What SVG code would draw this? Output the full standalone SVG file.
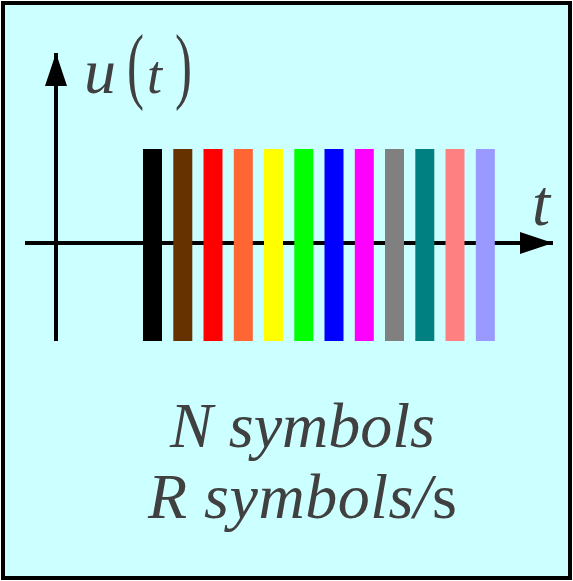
<svg xmlns="http://www.w3.org/2000/svg" width="573" height="581" viewBox="0 0 573 581">
<style>
.t{font-family:"Liberation Serif","Times New Roman",serif;fill:#404040;}
.i{font-style:italic;}
.ax{stroke:#000;stroke-width:4;fill:none;}
</style>
<defs>
<marker id="ah" viewBox="0 0 33 22" refX="33" refY="11" markerWidth="33" markerHeight="22" markerUnits="userSpaceOnUse" orient="auto">
<path d="M0,0 L33,11 L0,22 Z" fill="#000"/>
</marker>
</defs>
<rect x="3" y="3" width="567" height="575" fill="#CCFFFF" stroke="#000" stroke-width="4"/>
<g id="connectors">
<line class="ax" x1="56" y1="341" x2="56" y2="53" marker-end="url(#ah)"/>
<line class="ax" x1="25" y1="243" x2="553" y2="243" marker-end="url(#ah)"/>
</g>
<g id="bars">
<rect x="143" y="149" width="19" height="192" fill="#000000"/>
<rect x="173.3" y="149" width="19" height="192" fill="#663300"/>
<rect x="203.5" y="149" width="19" height="192" fill="#FF0000"/>
<rect x="233.8" y="149" width="19" height="192" fill="#FF6633"/>
<rect x="264" y="149" width="19" height="192" fill="#FFFF00"/>
<rect x="294.3" y="149" width="19" height="192" fill="#00FF00"/>
<rect x="324.5" y="149" width="19" height="192" fill="#0000FF"/>
<rect x="354.8" y="149" width="19" height="192" fill="#FF00FF"/>
<rect x="385" y="149" width="19" height="192" fill="#808080"/>
<rect x="415.3" y="149" width="19" height="192" fill="#008080"/>
<rect x="445.5" y="149" width="19" height="192" fill="#FF8080"/>
<rect x="475.8" y="149" width="19" height="192" fill="#9999FF"/>
</g>
<g id="labels">
<text class="t" y="93"><tspan class="i" x="84" font-size="64">u</tspan><tspan class="i" x="147" font-size="54">t</tspan></text>
<text class="t" font-size="60" transform="translate(127,93) scale(0.85,1.4)">(</text>
<text class="t" font-size="60" transform="translate(175,93) scale(0.85,1.4)">)</text>
<text class="t i" font-size="65" x="532" y="225">t</text>
<text class="t i" font-size="64" x="170" y="447" textLength="265" lengthAdjust="spacing">N symbols</text>
<text class="t" font-size="64" x="148" y="518" textLength="309" lengthAdjust="spacing"><tspan class="i">R symbols/</tspan>s</text>
</g>
</svg>
